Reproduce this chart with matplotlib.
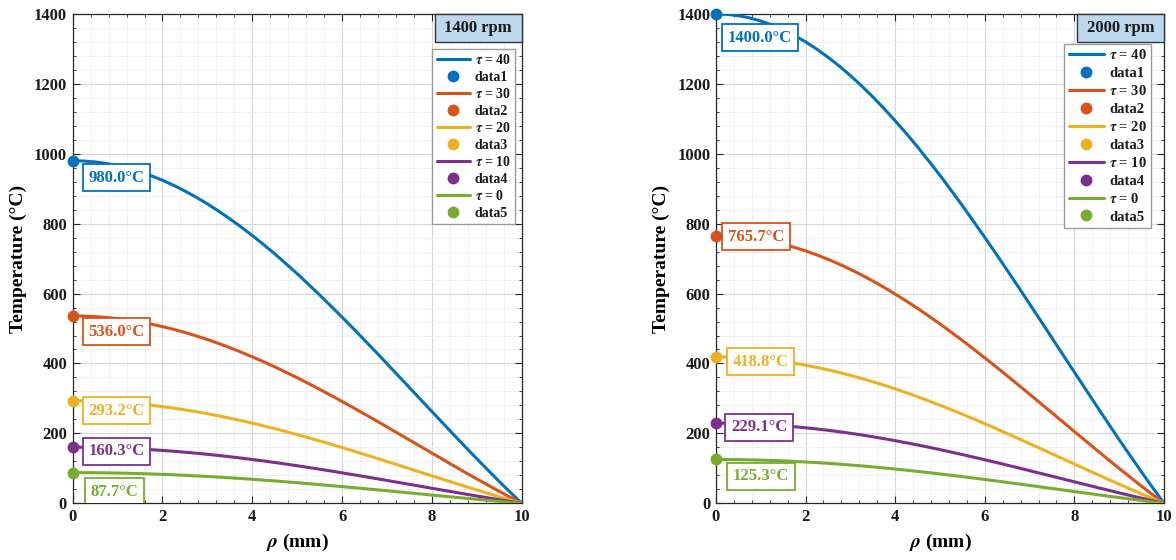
import matplotlib
matplotlib.use("Agg")
import matplotlib.pyplot as plt
from matplotlib.patches import Rectangle
from matplotlib.ticker import MultipleLocator, AutoMinorLocator

# Radial positions (mm) and the normalised radial temperature profile
rho_mm = [0.00, 0.25, 0.50, 0.75, 1.00, 1.25, 1.50, 1.75, 2.00, 2.25,
          2.50, 2.75, 3.00, 3.25, 3.50, 3.75, 4.00, 4.25, 4.50, 4.75,
          5.00, 5.25, 5.50, 5.75, 6.00, 6.25, 6.50, 6.75, 7.00, 7.25,
          7.50, 7.75, 8.00, 8.25, 8.50, 8.75, 9.00, 9.25, 9.50, 9.75,
          10.00]
radial_profile = [1.0000, 0.9991, 0.9964, 0.9919, 0.9856, 0.9775, 0.9677,
                  0.9562, 0.9430, 0.9281, 0.9116, 0.8936, 0.8741, 0.8530,
                  0.8305, 0.8068, 0.7817, 0.7554, 0.7283, 0.6994, 0.6702,
                  0.6394, 0.6082, 0.5760, 0.5434, 0.5101, 0.4763, 0.4421,
                  0.4075, 0.3727, 0.3378, 0.3028, 0.2679, 0.2331, 0.1984,
                  0.1640, 0.1300, 0.0967, 0.0637, 0.0315, 0.0000]

# Centre temperatures (°C) for each dimensionless time tau
tau_values = [40, 30, 20, 10, 0]
peak_1400rpm = [980.0, 536.0, 293.2, 160.3, 87.7]
peak_2000rpm = [1400.0, 765.7, 418.8, 229.1, 125.3]
panel_titles = ["1400 rpm", "2000 rpm"]

colors = ["#0072BD", "#D95319", "#EDB120", "#7E2F8E", "#77AC30"]

plt.rcParams["font.family"] = ["Liberation Serif", "DejaVu Serif"]
plt.rcParams["font.weight"] = "bold"
plt.rcParams["mathtext.fontset"] = "stix"

fig = plt.figure(figsize=(11.76, 5.6), dpi=100)
ax_left = fig.add_axes([0.0618, 0.1013, 0.3818, 0.8738])
ax_right = fig.add_axes([0.6088, 0.1013, 0.3810, 0.8738])

# label offsets in pixels (dx, dy) for each value tag
tag_offsets = [
    [(16, -17), (16, -16), (16, -10), (16, -4), (18, -19)],
    [(12, -24), (12, -1), (17, -5), (15, -4), (17, -17)],
]
legend_anchor = [(0.985, 0.928), (0.971, 0.939)]
legend_font = [10, 10.5]
legend_spacing = [0.25, 0.3]

spine_col = "#262626"

for k, (ax, peaks, title) in enumerate(zip([ax_left, ax_right],
                                          [peak_1400rpm, peak_2000rpm],
                                          panel_titles)):
    for i, (tau, peak, col) in enumerate(zip(tau_values, peaks, colors)):
        temps = [peak * p for p in radial_profile]
        ax.plot(rho_mm, temps, color=col, lw=2.2, label=rf"$\tau$ = {tau}",
                zorder=3, solid_capstyle="round", solid_joinstyle="round")
        ax.plot([rho_mm[0]], [peak], "o", color=col, ms=7.5, clip_on=False,
                label=f"data{i + 1}", zorder=5)
        dx, dy = tag_offsets[k][i]
        ax.annotate(f"{peak:.1f}°C", xy=(rho_mm[0], peak),
                    xytext=(dx, dy), textcoords="offset pixels",
                    ha="left", va="center", fontsize=12, fontweight="bold",
                    color=col, zorder=6, annotation_clip=False, clip_on=True,
                    bbox=dict(boxstyle="square,pad=0.33", fc="white",
                              ec=col, lw=1.3))

    ax.set_xlim(0, 10)
    ax.set_ylim(0, 1400)
    ax.xaxis.set_major_locator(MultipleLocator(2))
    ax.yaxis.set_major_locator(MultipleLocator(200))
    ax.xaxis.set_minor_locator(AutoMinorLocator(5))
    ax.yaxis.set_minor_locator(AutoMinorLocator(5))
    ax.grid(which="major", color="#d6d6d6", lw=0.8, zorder=0)
    ax.grid(which="minor", color="#ececec", lw=0.6, zorder=0)
    ax.set_axisbelow(True)
    ax.tick_params(which="both", direction="in", top=True, right=True,
                   colors=spine_col, labelcolor="#1a1a1a")
    ax.tick_params(which="major", length=5, labelsize=12, pad=4)
    ax.tick_params(which="minor", length=2.5)
    for lab in ax.get_xticklabels() + ax.get_yticklabels():
        lab.set_fontweight("bold")
    for sp in ax.spines.values():
        sp.set_color(spine_col)
        sp.set_linewidth(0.9)

    ax.set_xlabel(r"$\rho$ (mm)", fontsize=14, fontweight="bold", labelpad=5)
    ax.set_ylabel("Temperature (°C)", fontsize=14, fontweight="bold",
                  labelpad=5)

    # panel title tag in the top-right corner
    ax.add_patch(Rectangle((0.806, 0.942), 0.194, 0.058,
                           transform=ax.transAxes, fc="#BDD7EE",
                           ec="#333333", lw=1.0, zorder=10, clip_on=False))
    ax.text(0.903, 0.971, title, transform=ax.transAxes, ha="center",
            va="center", fontsize=12, fontweight="bold", color="#1a1a1a",
            zorder=11)

    leg = ax.legend(loc="upper right", bbox_to_anchor=legend_anchor[k],
                    borderaxespad=0, fontsize=legend_font[k],
                    handlelength=2.4, handletextpad=0.35,
                    labelspacing=legend_spacing[k], borderpad=0.3,
                    fancybox=False, framealpha=1, edgecolor="#9a9a9a",
                    markerscale=1.0)
    leg.get_frame().set_linewidth(1.0)
    leg.set_zorder(12)
    for t in leg.get_texts():
        t.set_fontweight("bold")
        t.set_color("#1a1a1a")

fig.savefig("out.png", dpi=100)
